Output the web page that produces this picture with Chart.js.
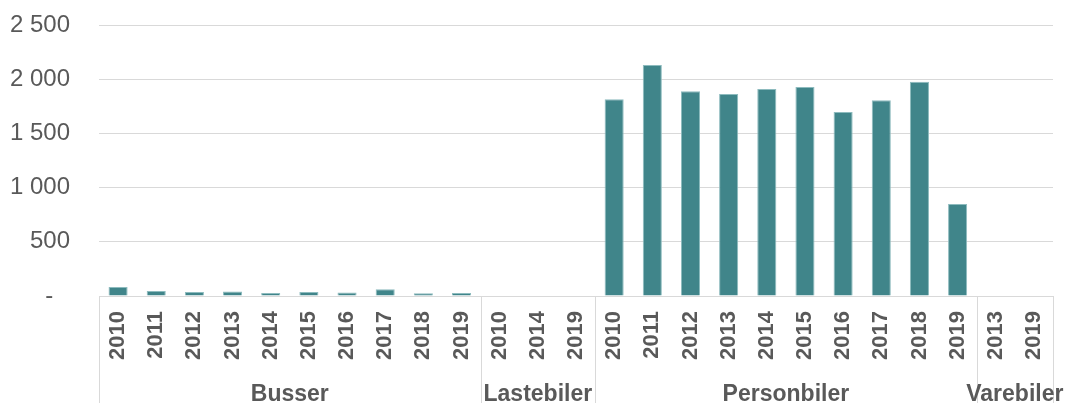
<!DOCTYPE html>
<html>
<head>
<meta charset="utf-8">
<script src="https://cdn.jsdelivr.net/npm/chart.js@4"></script>
<style>
  html, body { margin: 0; padding: 0; background: #fff; }
  #wrap { width: 1067px; height: 403px; }
</style>
</head>
<body>
<div id="wrap"><canvas id="chart" width="1067" height="403"></canvas></div>
<script>
// Years shown under each bar, grouped by vehicle type
const groupNames = ["Busser", "Lastebiler", "Personbiler", "Varebiler"];
const groupYears = [
  ["2010", "2011", "2012", "2013", "2014", "2015", "2016", "2017", "2018", "2019"],
  ["2010", "2014", "2019"],
  ["2010", "2011", "2012", "2013", "2014", "2015", "2016", "2017", "2018", "2019"],
  ["2013", "2019"],
];
// Values per group
const busser = [84, 46, 37, 42, 28, 37, 32, 62, 25, 28];
const lastebiler = [0, 0, 0];
const personbiler = [1815, 2131, 1888, 1863, 1910, 1928, 1697, 1805, 1977, 849];
const varebiler = [0, 0];

const yTicks = [0, 500, 1000, 1500, 2000, 2500];

const labels = groupYears.flat();
const values = [...busser, ...lastebiler, ...personbiler, ...varebiler];

const textColor = "#595959";
const lineColor = "#d9d9d9";

// draw group boxes and group names under the years
const groupAxis = {
  id: "groupAxis",
  afterDraw(chart) {
    const ctx = chart.ctx;
    const x = chart.scales.x;
    const area = chart.chartArea;
    const bottom = chart.height;
    let start = 0;
    const edges = [area.left];
    const centers = [];
    groupYears.forEach((ys, i) => {
      const end = start + ys.length - 1;
      const right =
        end < labels.length - 1
          ? (x.getPixelForValue(end) + x.getPixelForValue(end + 1)) / 2
          : area.right;
      centers.push((edges[i] + right) / 2);
      edges.push(right);
      start = end + 1;
    });
    ctx.save();
    ctx.strokeStyle = lineColor;
    ctx.lineWidth = 1;
    edges.forEach((ex) => {
      const px = Math.round(ex) + 0.5;
      ctx.beginPath();
      ctx.moveTo(px, area.bottom);
      ctx.lineTo(px, bottom);
      ctx.stroke();
    });
    ctx.fillStyle = textColor;
    ctx.font = "bold 23px 'Liberation Sans', Arial, sans-serif";
    ctx.textAlign = "center";
    ctx.textBaseline = "alphabetic";
    groupNames.forEach((name, i) => {
      ctx.fillText(name, centers[i], 401);
    });
    ctx.restore();
  },
};

const ctx = document.getElementById("chart").getContext("2d");
new Chart(ctx, {
  type: "bar",
  data: {
    labels: labels,
    datasets: [
      {
        data: values,
        backgroundColor: "#40858a",
        borderColor: "#8dbbbe",
        borderWidth: { top: 1, left: 1, right: 1, bottom: 0 },
        barPercentage: 0.5,
        categoryPercentage: 1,
      },
    ],
  },
  options: {
    responsive: false,
    animation: false,
    layout: { padding: { top: 25, right: 14, left: 0, bottom: 0 } },
    plugins: { legend: { display: false }, tooltip: { enabled: false } },
    scales: {
      x: {
        grid: { display: false, drawTicks: false },
        border: { display: true, color: lineColor, width: 1 },
        ticks: {
          color: textColor,
          font: { family: "'Liberation Sans', Arial, sans-serif", size: 22, weight: "bold" },
          minRotation: 90,
          maxRotation: 90,
          padding: 15,
          autoSkip: false,
        },
        afterFit(scale) {
          scale.height = 107;
          scale.paddingLeft = 0;
          scale.paddingRight = 0;
        },
      },
      y: {
        min: 0,
        max: 2500,
        grid: { color: lineColor, drawTicks: false },
        border: { display: false },
        afterBuildTicks(scale) {
          scale.ticks = yTicks.map((v) => ({ value: v }));
        },
        ticks: {
          color: textColor,
          padding: 29,
          font: { family: "'Liberation Sans', Arial, sans-serif", size: 24 },
          callback: (v) =>
            v === 0 ? "-\u2002\u2009" : String(v).replace(/\B(?=(\d{3})+(?!\d))/g, " "),
        },
        afterFit(scale) {
          scale.width = 99;
          scale.paddingTop = 0;
          scale.paddingBottom = 0;
        },
      },
    },
  },
  plugins: [groupAxis],
});
</script>
</body>
</html>
